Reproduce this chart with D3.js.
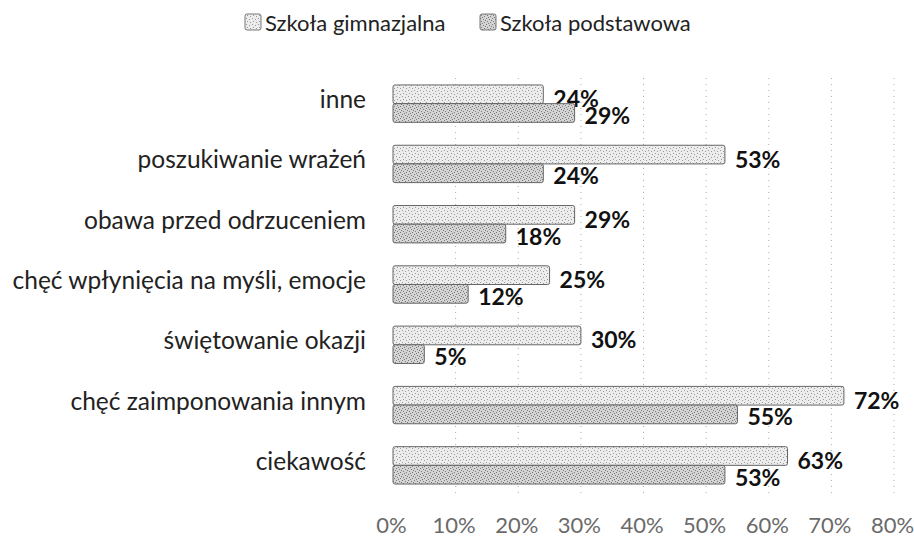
<!DOCTYPE html>
<meta charset="utf-8">
<style type="text/css">
body { margin: 0; background: #fff; }
.cat { font-family: Lato, sans-serif; font-size: 24.5px; fill: #222; }
.val { font-family: Lato, sans-serif; font-size: 23px; font-weight: bold; fill: #111; }
.tick text { font-family: Lato, sans-serif; font-size: 22px; fill: #6a6a6a; }
.legend text { font-family: Lato, sans-serif; font-size: 22px; fill: #222; }
.grid line { stroke: #aaa; stroke-dasharray: 1,5; }
.bar { stroke: #666; stroke-width: 1; }
</style>
<body>
</body>

<script src="https://d3js.org/d3.v7.min.js"></script>
<script>

// data
var categories = ["inne", "poszukiwanie wrażeń", "obawa przed odrzuceniem",
  "chęć wpłynięcia na myśli, emocje", "świętowanie okazji",
  "chęć zaimponowania innym", "ciekawość"];
var seriesNames = ["Szkoła gimnazjalna", "Szkoła podstawowa"];
var gimnazjalna = [24, 53, 29, 25, 30, 72, 63];
var podstawowa = [29, 24, 18, 12, 5, 55, 53];
var xTicks = [0, 10, 20, 30, 40, 50, 60, 70, 80];

var width = 914, height = 540;

var svg = d3.select("body").append("svg")
    .attr("width", width)
    .attr("height", height);

// dotted textures for the two series
var defs = svg.append("defs");
function texture(id, bg, dot, step) {
  var p = defs.append("pattern")
      .attr("id", id)
      .attr("patternUnits", "userSpaceOnUse")
      .attr("width", 6).attr("height", 6);
  p.append("rect").attr("width", 6).attr("height", 6).attr("fill", bg);
  var pts = [[0,0],[3,1],[1,3],[4,4],[5,2],[2,5]];
  pts.slice(0, step).forEach(function(d) {
    p.append("rect").attr("x", d[0]).attr("y", d[1])
      .attr("width", 1).attr("height", 1).attr("fill", dot);
  });
}
texture("patG", "#ececec", "#9a9a9a", 4);
texture("patP", "#d4d4d4", "#7a7a7a", 6);
var fills = ["url(#patG)", "url(#patP)"];

var x = d3.scaleLinear()
    .domain([0, 80])
    .range([393, 894]);

var y = d3.scaleBand()
    .domain(categories)
    .range([73.5, 495.5])
    .paddingInner(0.38)
    .paddingOuter(0.19);

var sub = d3.scaleBand()
    .domain([0, 1])
    .range([0, y.bandwidth()]);

// grid
svg.append("g")
    .attr("class", "grid")
    .selectAll("line")
    .data(xTicks.slice(1))
  .enter().append("line")
    .attr("x1", function(d) { return x(d); })
    .attr("x2", function(d) { return x(d); })
    .attr("y1", 78)
    .attr("y2", 496);

// x axis (labels only)
var xAxis = svg.append("g")
    .attr("transform", "translate(-2,514)")
    .call(d3.axisBottom(x).tickValues(xTicks).tickSize(0)
      .tickFormat(function(d) { return d + "%"; }));
xAxis.select(".domain").remove();

// category labels
svg.selectAll(".cat")
    .data(categories)
  .enter().append("text")
    .attr("class", "cat")
    .attr("x", 366)
    .attr("y", function(d) { return y(d) + y.bandwidth() / 2 - 5; })
    .attr("text-anchor", "end")
    .attr("dominant-baseline", "central")
    .text(function(d) { return d; });

// bars
var series = [gimnazjalna, podstawowa];
var labelShift = [4, 2];
series.forEach(function(vals, s) {
  svg.selectAll(".bar" + s)
      .data(vals)
    .enter().append("rect")
      .attr("class", "bar bar" + s)
      .attr("x", x(0))
      .attr("y", function(d, i) { return y(categories[i]) + sub(s); })
      .attr("width", function(d) { return x(d) - x(0); })
      .attr("height", sub.bandwidth())
      .attr("rx", 2)
      .attr("fill", fills[s]);

  svg.selectAll(".val" + s)
      .data(vals)
    .enter().append("text")
      .attr("class", "val val" + s)
      .attr("x", function(d) { return x(d) + 10; })
      .attr("y", function(d, i) { return y(categories[i]) + sub(s) + sub.bandwidth() / 2 + labelShift[s]; })
      .attr("dominant-baseline", "central")
      .text(function(d) { return d + "%"; });
});

// legend
var legendX = [245, 480];
var legend = svg.append("g").attr("class", "legend");
seriesNames.forEach(function(name, s) {
  legend.append("rect")
      .attr("x", legendX[s]).attr("y", 14)
      .attr("width", 16).attr("height", 16)
      .attr("rx", 2)
      .attr("fill", fills[s])
      .attr("stroke", "#777");
  legend.append("text")
      .attr("x", legendX[s] + 20).attr("y", 22)
      .attr("dominant-baseline", "central")
      .text(name);
});

</script>
